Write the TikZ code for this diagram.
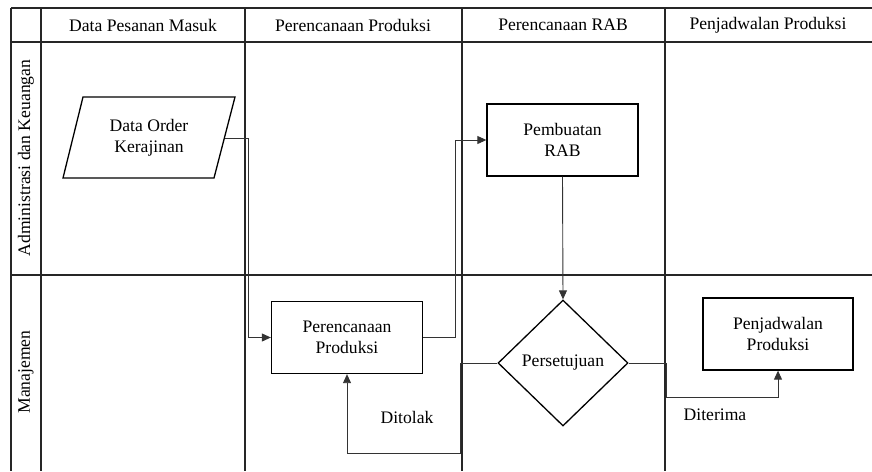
\documentclass[tikz,border=0pt]{standalone}
\usepackage{fontspec}
\setmainfont{Liberation Serif}
\usetikzlibrary{arrows.meta,shapes.geometric}
\begin{document}
\begin{tikzpicture}[x=1pt,y=-1pt,
  frame/.style={draw=black!85,line width=1.3pt},
  procbox/.style={draw=black,line width=1.3pt,minimum width=151pt,minimum height=72pt,align=center,inner sep=2pt},
  txt/.style={font=\fontsize{17.6}{21}\selectfont,align=center},
  conn/.style={draw=black!80,line width=0.9pt},
  arr/.style={conn,-{Triangle[length=9pt,width=8pt]}}]
\useasboundingbox (0,0) rectangle (872,471);
% frame
\draw[frame] (11,8) -- (872,8);
\draw[frame] (11,42) -- (872,42);
\draw[frame] (11,275) -- (872,275);
\draw[frame] (11,8) -- (11,471);
\draw[frame] (41,8) -- (41,471);
\draw[frame] (245,8) -- (245,471);
\draw[frame] (462,8) -- (462,471);
\draw[frame] (665,8) -- (665,471);
% headers
\node[txt] (h1) at (143,25) {Data Pesanan Masuk};
\node[txt] (h2) at (353,25) {Perencanaan Produksi};
\node[txt] (h3) at (563,25) {Perencanaan RAB};
\node[txt] (h4) at (768,25) {Penjadwalan Produksi};
% lanes
\node[txt,rotate=90] (l1) at (26,158) {Administrasi dan Keuangan};
\node[txt,rotate=90] (l2) at (26,372) {Manajemen};
% parallelogram
\coordinate (p1) at (83,97);
\coordinate (p2) at (235,97);
\coordinate (p3) at (214,178);
\coordinate (p4) at (63,178);
\draw[line width=1.3pt,line join=miter] (p1) -- (p2) -- (p3) -- (p4) -- cycle;
\node[txt,minimum width=152pt,minimum height=81pt,inner sep=0pt] (order) at (149,138) {Data Order\\Kerajinan};
% boxes
\node[procbox,txt] (pp) at (347,337.5) {Perencanaan\\Produksi};
\node[procbox,txt] (rab) at (562.5,140) {Pembuatan\\RAB};
\node[procbox,txt,minimum width=150pt] (pj) at (778,334) {Penjadwalan\\Produksi};
\node[draw=black,line width=1.3pt,diamond,txt,minimum width=130pt,minimum height=126pt,inner sep=1pt] (dia) at (563,363) {Persetujuan};
% connectors
\draw[arr] (order.east) -- ++(23,0) |- (pp.west);
\draw[arr] (pp.east) -- ++(32,0) |- (rab.west);
\draw[arr] (rab.south) -- (dia.north);
\draw[arr] (dia.west) -- ++(-37,0) -- ++(0,90) -| (pp.south);
\draw[arr] (dia.east) -- ++(38,0) -- ++(0,34) -| (pj.south);
% labels
\node[txt] (ditolak) at (407,417) {Ditolak};
\node[txt] (diterima) at (715,415) {Diterima};
\end{tikzpicture}
\end{document}
